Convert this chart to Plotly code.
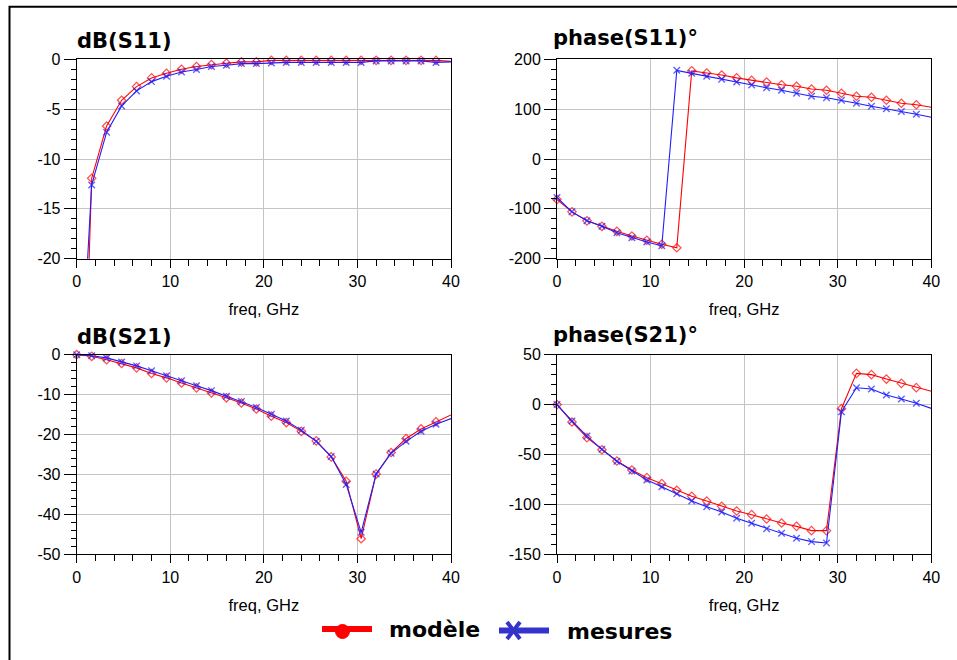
import plotly.graph_objects as go

# ---------------- data ----------------
freq = [0, 1.6, 3.2, 4.8, 6.4, 8.0, 9.6, 11.2, 12.8, 14.4, 16.0, 17.6, 19.2,
        20.8, 22.4, 24.0, 25.6, 27.2, 28.8, 30.4, 32.0, 33.6, 35.2, 36.8, 38.4, 40.0]

s11_db_model = [-60, -11.93, -6.68, -4.1, -2.73, -1.86, -1.39, -0.99, -0.72, -0.52, -0.38,
                -0.25, -0.25, -0.1, -0.1, -0.1, -0.1, -0.1, -0.1, -0.1, -0.1, -0.1,
                -0.1, -0.1, -0.1, -0.2]
s11_db_meas = [-40, -12.6, -7.3, -4.67, -3.16, -2.23, -1.69, -1.26, -1.02, -0.72, -0.59,
               -0.42, -0.42, -0.35, -0.3, -0.3, -0.3, -0.3, -0.3, -0.3, -0.15, -0.15,
               -0.15, -0.15, -0.3, -0.25]

s11_ph_model = [-81, -106, -124, -135, -145, -154.5, -163, -171, -178, 177, 172.6, 168.6,
                163, 158, 154.5, 149, 146, 140.5, 138, 132, 126, 124, 118, 112, 109, 104]
s11_ph_meas = [-77, -106, -124, -135, -148, -158, -166.5, -174, 178, 172, 166, 160,
               154.5, 148.5, 143, 138, 132, 126, 123, 118, 112, 106, 101, 95.6, 90, 84]

s21_db_model = [0, -0.4, -1.25, -2.2, -3.3, -4.7, -5.8, -7.1, -8.3, -9.6, -10.8, -12.1,
                -13.6, -15.4, -17.0, -19.2, -21.6, -25.6, -31.7, -46.1, -29.9, -24.5,
                -21.0, -18.6, -16.8, -15.1]
s21_db_meas = [0, -0.25, -0.8, -1.8, -2.8, -4.0, -5.3, -6.5, -7.8, -9.0, -10.4, -11.7,
               -13.2, -14.9, -16.6, -18.9, -21.7, -25.5, -32.5, -44.5, -29.9, -24.7,
               -21.7, -19.2, -17.4, -16.0]

s21_ph_model = [0, -17.4, -33.1, -45.2, -56.5, -65.5, -73.2, -79.2, -85.9, -91.9, -96.6,
                -101.9, -106.6, -110.3, -114.6, -118.6, -122, -126.3, -126.3, -4.1, 31.3,
                30, 25.6, 21.3, 17, 13.3]
s21_ph_meas = [0, -16.4, -31.5, -44.8, -56.8, -66.5, -75.5, -82.2, -89.2, -96.6, -102.3,
               -107.6, -113.9, -119, -124.3, -129, -134, -137.3, -138.7, -7.1, 16.9, 15.6,
               9.6, 5.6, 1.3, -3.8]

titles = ["dB(S11)", "phase(S11)°", "dB(S21)", "phase(S21)°"]
y_ranges = [[-20, 0], [-200, 200], [-50, 0], [-150, 50]]
y_tickvals = [[0, -5, -10, -15, -20],
              [200, 100, 0, -100, -200],
              [0, -10, -20, -30, -40, -50],
              [50, 0, -50, -100, -150]]
y_minor = [1, 20, 2, 10]
x_tickvals = [0, 10, 20, 30, 40]
x_title = "freq, GHz"
legend_names = ["modèle", "mesures"]

# ---------------- layout helpers ----------------
W, H = 957, 660
def px(x):
    return x / W
def py(y):
    return 1 - y / H

RED = "#ff0000"
BLUE = "#1e1eff"
FONT = "Liberation Sans, Arial, sans-serif"
BOLD = "DejaVu Sans, Liberation Sans, sans-serif"

x_domains = [[px(76.7), px(451.0)], [px(557.0), px(931.3)]]
y_domains = [[py(258.7), py(59.4)], [py(554.3), py(354.7)]]

panels = [
    (s11_db_model, s11_db_meas),
    (s11_ph_model, s11_ph_meas),
    (s21_db_model, s21_db_meas),
    (s21_ph_model, s21_ph_meas),
]

fig = go.Figure()
n = len(freq)
for i, (mod, mes) in enumerate(panels):
    ax = "" if i == 0 else str(i + 1)
    lo, hi = y_ranges[i]
    def sizes(vals, s):
        return [0 if (k == n - 1 or v < lo or v > hi) else s for k, v in enumerate(vals)]
    fig.add_trace(go.Scatter(
        x=freq, y=mod, mode="lines+markers", xaxis="x" + ax, yaxis="y" + ax,
        line=dict(color=RED, width=1.1), cliponaxis=False, showlegend=False,
        marker=dict(symbol="diamond-open", size=sizes(mod, 6.5), color=RED,
                    line=dict(width=1.2, color=RED))))
    fig.add_trace(go.Scatter(
        x=freq, y=mes, mode="lines+markers", xaxis="x" + ax, yaxis="y" + ax,
        line=dict(color=BLUE, width=1.1), cliponaxis=False, showlegend=False,
        marker=dict(symbol="x-thin-open", size=sizes(mes, 6.5), color=BLUE,
                    line=dict(width=1.4, color=BLUE))))

layout = dict(width=W, height=H, margin=dict(l=0, r=0, t=0, b=0),
              paper_bgcolor="white", plot_bgcolor="white", showlegend=False,
              font=dict(family=FONT, color="black"))

for i in range(4):
    ax = "" if i == 0 else str(i + 1)
    col, row = i % 2, i // 2
    layout["xaxis" + ax] = dict(
        domain=x_domains[col], anchor="y" + ax, range=[0, 40],
        tickmode="array", tickvals=x_tickvals, ticktext=[str(v) for v in x_tickvals],
        automargin=False,
        showline=True, linecolor="black", linewidth=1, mirror=True,
        ticks="outside", ticklen=8, tickcolor="black", tickwidth=1,
        showgrid=True, gridcolor="#c4c4c4", gridwidth=1.3, zeroline=False,
        tickfont=dict(family=FONT, size=16, color="black"),
        title=dict(text=x_title, font=dict(family=FONT, size=16.5, color="black"), standoff=14),
        minor=dict(dtick=2, tick0=0, ticks="outside", ticklen=6, tickcolor="black", showgrid=False),
    )
    layout["yaxis" + ax] = dict(
        domain=y_domains[row], anchor="x" + ax, range=y_ranges[i],
        tickmode="array", tickvals=y_tickvals[i],
        ticktext=[str(v) for v in y_tickvals[i]],
        automargin=False,
        showline=True, linecolor="black", linewidth=1, mirror=True,
        ticks="outside", ticklen=12, tickcolor="black", tickwidth=1,
        showgrid=True, gridcolor="#c4c4c4", gridwidth=1.3, zeroline=False,
        tickfont=dict(family=FONT, size=16, color="black"),
        minor=dict(tickmode="linear", tick0=0, dtick=y_minor[i], ticks="outside",
                   ticklen=5, tickcolor="black", showgrid=False),
    )

fig.update_layout(**layout)

# panel titles
title_pos = [(75, 41), (551, 38), (75, 337), (551, 335)]
for t, (x, y) in zip(titles, title_pos):
    fig.add_annotation(text="<b>" + t + "</b>", xref="paper", yref="paper",
                       x=px(x), y=py(y), xanchor="left", yanchor="middle", showarrow=False,
                       font=dict(family=BOLD, size=21, color="black"))

# outer frame
fig.add_shape(type="rect", xref="paper", yref="paper", x0=px(9.5), x1=1.02,
              y0=-0.02, y1=py(6.8), line=dict(color="black", width=2))

# legend (drawn)
LBLUE = "#3434cc"
fig.add_shape(type="line", xref="paper", yref="paper", x0=px(322), x1=px(372),
              y0=py(629), y1=py(629), line=dict(color=RED, width=6))
fig.add_shape(type="circle", xref="paper", yref="paper", x0=px(335.5), x1=px(349.5),
              y0=py(638.5), y1=py(624.5), fillcolor=RED, line=dict(color=RED, width=1))
fig.add_shape(type="line", xref="paper", yref="paper", x0=px(499), x1=px(549),
              y0=py(630.5), y1=py(630.5), line=dict(color=LBLUE, width=6))
fig.add_shape(type="line", xref="paper", yref="paper", x0=px(507), x1=px(520),
              y0=py(622), y1=py(639), line=dict(color=LBLUE, width=4))
fig.add_shape(type="line", xref="paper", yref="paper", x0=px(507), x1=px(520),
              y0=py(639), y1=py(622), line=dict(color=LBLUE, width=4))
fig.add_annotation(text="<b>" + legend_names[0] + "</b>", xref="paper", yref="paper",
                   x=px(387), y=py(629), xanchor="left", yanchor="middle", showarrow=False,
                   font=dict(family=BOLD, size=22, color="black"))
fig.add_annotation(text="<b>" + legend_names[1] + "</b>", xref="paper", yref="paper",
                   x=px(565), y=py(631), xanchor="left", yanchor="middle", showarrow=False,
                   font=dict(family=BOLD, size=22, color="black"))

fig.write_html("out.html")
